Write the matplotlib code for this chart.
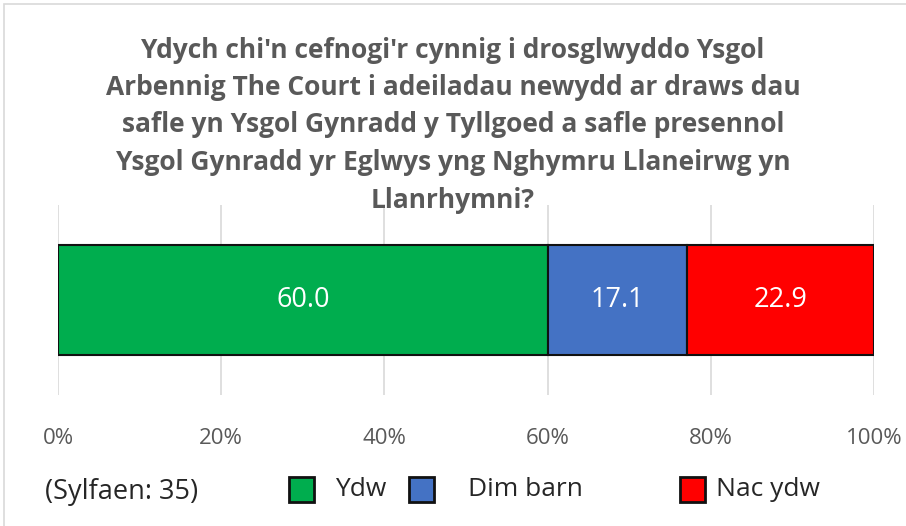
import matplotlib
matplotlib.use("Agg")
import matplotlib.pyplot as plt
from matplotlib.patches import Rectangle

categories = ["Ydw", "Dim barn", "Nac ydw"]
values = [60.0, 17.1, 22.9]
colors = ["#00ad4e", "#4472c4", "#ff0000"]
xticks = [0, 20, 40, 60, 80, 100]
xticklabels = ["0%", "20%", "40%", "60%", "80%", "100%"]
title = ("Ydych chi'n cefnogi'r cynnig i drosglwyddo Ysgol\n"
         "Arbennig The Court i adeiladau newydd ar draws dau\n"
         "safle yn Ysgol Gynradd y Tyllgoed a safle presennol\n"
         "Ysgol Gynradd yr Eglwys yng Nghymru Llaneirwg yn\n"
         "Llanrhymni?")
base_note = "(Sylfaen: 35)"

# legend layout (pixel x of marker left edge, pixel x of label start)
legend_marker_x = [289, 409, 680]
legend_text_x = [335, 468, 716]

W, H = 906, 526
plt.rcParams['font.family'] = ['Open Sans', 'DejaVu Sans']
fig = plt.figure(figsize=(W/100, H/100), dpi=100)
ax = fig.add_axes([58/W, 1-395/H, (874-58)/W, (395-205)/H])

left = 0
for cat, v, c in zip(categories, values, colors):
    ax.barh(0, v, left=left, height=0.58, color=c, edgecolor="#111111", linewidth=1.5, label=cat, zorder=3)
    ax.text(left + v/2, 0, f"{v:.1f}", ha="center", va="center", color="white", fontsize=19.5, zorder=4)
    left += v

ax.set_xlim(0, 100)
ax.set_ylim(-0.5, 0.5)
ax.set_xticks(xticks)
ax.set_xticklabels(xticklabels, color="#595959", fontsize=16)
ax.set_yticks([])
ax.tick_params(axis="x", length=0, pad=24)
ax.grid(axis="x", color="#d9d9d9", linewidth=1.2, zorder=0)
for s in ax.spines.values():
    s.set_visible(False)

fig.text(0.5, 1-125/H, title, ha="center", va="center", fontsize=19, fontweight="bold",
         color="#595959", linespacing=1.5)

fig.text(45/W, 1-492/H, base_note, ha="left", va="center", fontsize=19.5, color="#262626")

for cat, c, mx, tx in zip(categories, colors, legend_marker_x, legend_text_x):
    fig.patches.append(Rectangle((mx/W, 1-502/H), 25/W, 25/H, transform=fig.transFigure,
                                 facecolor=c, edgecolor="#111111", linewidth=2))
    fig.text(tx/W, 1-490/H, cat, ha="left", va="center", fontsize=19, color="#262626")

fig.patches.append(Rectangle((4/W, -0.01), 1.0, 1-4/H+0.01, transform=fig.transFigure,
                             fill=False, edgecolor="#d9d9d9", linewidth=1.2))

fig.savefig("out.png", dpi=100)
